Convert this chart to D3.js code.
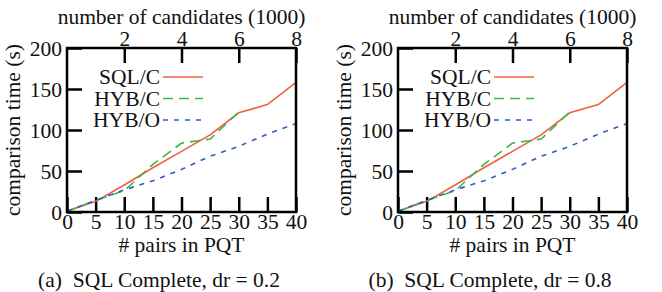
<!DOCTYPE html>
<html>
<head>
<meta charset="utf-8">
<script src="https://cdn.jsdelivr.net/npm/d3@7"></script>
<style>
  html, body { margin: 0; padding: 0; background: #fff; }
  svg { display: block; }
  text { font-family: "Liberation Serif", "Times New Roman", serif; fill: #111; }
</style>
</head>
<body>
<div id="chart"></div>
<script>
/* =====================================================
 * DATOS
 * ===================================================== */
const pairs = [0, 5, 10, 15, 20, 25, 30, 35, 40];
const pairTicks = [0, 5, 10, 15, 20, 25, 30, 35, 40];
const candTicks = [2, 4, 6, 8];
const timeTicks = [0, 50, 100, 150, 200];

// dr = 0.2
const sqlC_02 = [1, 13, 33, 54, 74, 94, 121, 131, 158];
const hybC_02 = [1, 14, 26, 58, 84, 89, 122];
const hybO_02 = [1, 14, 27, 38, 52, 68, 80, 95, 108];

// dr = 0.8
const sqlC_08 = [1, 13, 33, 54, 74, 94, 121, 131, 158];
const hybC_08 = [1, 14, 26, 58, 84, 89, 122];
const hybO_08 = [1, 14, 27, 38, 52, 68, 80, 95, 108];

const captions = ["(a)\u00a0\u00a0SQL Complete, dr = 0.2", "(b)\u00a0\u00a0SQL Complete, dr = 0.8"];

/* =====================================================
 * ESTILOS
 * ===================================================== */
const FONT = 21.5;
const SERIES_STYLE = [
  { name: "SQL/C", color: "#f0603f", dash: null },
  { name: "HYB/C", color: "#3cb84a", dash: "10,6" },
  { name: "HYB/O", color: "#2f5cbf", dash: "5,6" }
];

const W = 662, H = 292;
const plot = { x: 67, y: 48, w: 229, h: 164 };

const svg = d3.select("#chart").append("svg")
  .attr("width", W).attr("height", H)
  .attr("viewBox", `0 0 ${W} ${H}`);

const x = d3.scaleLinear().domain([0, 40]).range([0, plot.w]);
const x2 = d3.scaleLinear().domain([0, 8]).range([0, plot.w]);
const y = d3.scaleLinear().domain([0, 200]).range([plot.h, 0]);

/* =====================================================
 * PANEL
 * ===================================================== */
function drawPanel(offsetX, series, caption) {
  const g = svg.append("g").attr("transform", `translate(${offsetX + plot.x},${plot.y})`);

  // ejes (ticks hacia dentro)
  const ax = g.append("g").attr("transform", `translate(0,${plot.h})`)
    .call(d3.axisBottom(x).tickValues(pairTicks).tickSize(-15).tickPadding(0).tickFormat(d3.format("d")));
  const ax2 = g.append("g")
    .call(d3.axisTop(x2).tickValues(candTicks).tickSize(-15).tickPadding(0).tickFormat(d3.format("d")));
  const ay = g.append("g")
    .call(d3.axisLeft(y).tickValues(timeTicks).tickSize(-15).tickPadding(0).tickFormat(d3.format("d")));

  [ax, ax2, ay].forEach(a => {
    a.select(".domain").remove();
    a.selectAll(".tick line").attr("stroke", "#000").attr("stroke-width", 2.5);
    a.selectAll("text").attr("font-size", FONT).style("font-family", "Liberation Serif").attr("fill", "#111");
  });
  ax.selectAll("text").attr("y", 17).attr("dy", null);
  ax2.selectAll("text").attr("y", -2).attr("dy", null);
  ay.selectAll("text").attr("x", -5).attr("dy", "0.33em");

  // líneas de datos
  const line = d3.line().x((d, i) => x(pairs[i])).y(d => y(d));
  series.forEach((vals, k) => {
    const st = SERIES_STYLE[k];
    g.append("path")
      .attr("d", line(vals))
      .attr("fill", "none")
      .attr("stroke", st.color)
      .attr("stroke-width", 1.6)
      .attr("stroke-dasharray", st.dash);
  });

  // leyenda
  SERIES_STYLE.forEach((st, k) => {
    const ly = 29 + k * 21.5;
    g.append("text")
      .attr("x", 93).attr("y", ly).attr("dy", "0.33em")
      .attr("text-anchor", "end")
      .attr("font-size", FONT)
      .text(st.name);
    g.append("line")
      .attr("x1", 96).attr("x2", 136)
      .attr("y1", ly).attr("y2", ly)
      .attr("stroke", st.color)
      .attr("stroke-width", 1.6)
      .attr("stroke-dasharray", st.dash);
  });

  // marco
  g.append("rect")
    .attr("width", plot.w).attr("height", plot.h)
    .attr("fill", "none").attr("stroke", "#000").attr("stroke-width", 2.5);

  // títulos
  g.append("text")
    .attr("x", plot.w / 2).attr("y", plot.h + 40)
    .attr("text-anchor", "middle").attr("font-size", FONT)
    .text("# pairs in PQT");
  g.append("text")
    .attr("x", plot.w / 2).attr("y", -24)
    .attr("text-anchor", "middle").attr("font-size", FONT)
    .text("number of candidates (1000)");
  g.append("text")
    .attr("transform", `translate(${13 - plot.x},${plot.h / 2}) rotate(-90)`)
    .attr("text-anchor", "middle").attr("dy", "0.33em").attr("font-size", FONT)
    .text("comparison time (s)");

  // pie de figura
  svg.append("text")
    .attr("x", offsetX + 159).attr("y", 287)
    .attr("text-anchor", "middle").attr("font-size", FONT)
    .text(caption);
}

drawPanel(0, [sqlC_02, hybC_02, hybO_02], captions[0]);
drawPanel(331, [sqlC_08, hybC_08, hybO_08], captions[1]);
</script>
</body>
</html>
